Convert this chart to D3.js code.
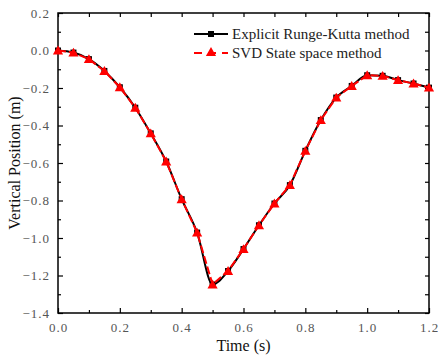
<!DOCTYPE html>
<html><head><meta charset="utf-8">
<script src="https://cdn.jsdelivr.net/npm/d3@7"></script>
<style>body{margin:0;background:#fff}svg{display:block}</style>
</head><body>
<script>
const times = [0,0.05,0.1,0.15,0.2,0.25,0.3,0.35,0.4,0.45,0.5,0.55,0.6,0.65,0.7,0.75,0.8,0.85,0.9,0.95,1.0,1.05,1.1,1.15,1.2];
const rungeKutta = [0,-0.011,-0.046,-0.109,-0.196,-0.305,-0.442,-0.592,-0.793,-0.971,-1.248,-1.176,-1.059,-0.932,-0.816,-0.718,-0.535,-0.371,-0.251,-0.189,-0.132,-0.135,-0.158,-0.176,-0.198];
const svdStateSpace = [0,-0.011,-0.046,-0.109,-0.196,-0.305,-0.442,-0.592,-0.793,-0.971,-1.248,-1.176,-1.059,-0.932,-0.816,-0.718,-0.535,-0.371,-0.251,-0.189,-0.132,-0.135,-0.158,-0.176,-0.198];
const xTicks = [0,0.2,0.4,0.6,0.8,1.0,1.2];
const yTicks = [0.2,0,-0.2,-0.4,-0.6,-0.8,-1.0,-1.2,-1.4];
const seriesNames = ["Explicit Runge-Kutta method","SVD State space method"];

const W=438,H=356;
const m={l:58,r:9,t:13,b:43};
const svg=d3.select("body").append("svg").attr("width",W).attr("height",H);
const x=d3.scaleLinear().domain([0,1.2]).range([m.l,W-m.r]);
const y=d3.scaleLinear().domain([-1.4,0.2]).range([H-m.b,m.t]);

const font="'Liberation Serif','Times New Roman',serif";
const tickFont="'Liberation Serif',serif";
const minorX=d3.range(0,12.5,1).map(d=>d/10);
const minorY=d3.range(-14,2.5,1).map(d=>d/10);

// bottom axis
const gx=svg.append("g").attr("transform",`translate(0,${H-m.b})`)
  .call(d3.axisBottom(x).tickValues(xTicks).tickSizeInner(-5).tickSizeOuter(0).tickPadding(10).tickFormat(d3.format(".1f")));
svg.append("g").attr("transform",`translate(0,${H-m.b})`)
  .call(d3.axisBottom(x).tickValues(minorX.filter(v=>Math.round(v*10)%2)).tickSizeInner(-3).tickSizeOuter(0).tickFormat(""));
// top axis
svg.append("g").attr("transform",`translate(0,${m.t})`)
  .call(d3.axisTop(x).tickValues(minorX).tickSizeInner(-4).tickSizeOuter(0).tickFormat(""));
// left axis
const gy=svg.append("g").attr("transform",`translate(${m.l},0)`)
  .call(d3.axisLeft(y).tickValues(yTicks).tickSizeInner(-5).tickSizeOuter(0).tickPadding(8).tickFormat(d=>d3.format(".1f")(d).replace("-","\u2212")));
svg.append("g").attr("transform",`translate(${m.l},0)`)
  .call(d3.axisLeft(y).tickValues(minorY.filter(v=>Math.abs(Math.round(v*10))%2)).tickSizeInner(-3).tickSizeOuter(0).tickFormat(""));
// right axis
svg.append("g").attr("transform",`translate(${W-m.r},0)`)
  .call(d3.axisRight(y).tickValues(minorY).tickSizeInner(-4).tickSizeOuter(0).tickFormat(""));

svg.selectAll(".domain").remove();
svg.selectAll(".tick line").attr("stroke","#000").attr("stroke-width",1.2);
svg.selectAll(".tick text").attr("font-family",tickFont).attr("font-size",13).attr("fill","#555").attr("letter-spacing","1px");

// frame
svg.append("rect").attr("x",m.l).attr("y",m.t).attr("width",W-m.r-m.l).attr("height",H-m.b-m.t)
  .attr("fill","none").attr("stroke","#000").attr("stroke-width",1.5);

const rk=times.map((t,i)=>[t,rungeKutta[i]]);
const sv=times.map((t,i)=>[t,svdStateSpace[i]]);
const clip=svg.append("clipPath").attr("id","c").append("rect").attr("x",m.l).attr("y",m.t).attr("width",W-m.r-m.l).attr("height",H-m.b-m.t);
const plot=svg.append("g");

plot.append("path").datum(rk).attr("fill","none").attr("stroke","#000").attr("stroke-width",2)
  .attr("d",d3.line().x(d=>x(d[0])).y(d=>y(d[1])).curve(d3.curveMonotoneX));
plot.selectAll(".sq").data(rk).enter().append("rect")
  .attr("x",d=>x(d[0])-3).attr("y",d=>y(d[1])-3).attr("width",6).attr("height",6).attr("fill","#000");
plot.append("path").datum(sv).attr("fill","none").attr("stroke","#f00").attr("stroke-width",2).attr("stroke-dasharray","8,3")
  .attr("d",d3.line().x(d=>x(d[0])).y(d=>y(d[1])));
const tri=d3.symbol().type(d3.symbolTriangle).size(45);
plot.selectAll(".tr").data(sv).enter().append("path")
  .attr("d",tri).attr("transform",d=>`translate(${x(d[0])},${y(d[1])+1})`).attr("fill","#f00");

// legend
const lg=svg.append("g");
lg.append("line").attr("x1",194).attr("x2",228).attr("y1",34).attr("y2",34).attr("stroke","#000").attr("stroke-width",2);
lg.append("rect").attr("x",208).attr("y",31).attr("width",6).attr("height",6).attr("fill","#000");
lg.append("line").attr("x1",194).attr("x2",228).attr("y1",53).attr("y2",53).attr("stroke","#f00").attr("stroke-width",2).attr("stroke-dasharray","8,6");
lg.append("path").attr("d",tri).attr("transform","translate(211,53)").attr("fill","#f00");
lg.append("text").attr("x",232).attr("y",39).text(seriesNames[0]).attr("font-family",font).attr("font-size",15).attr("fill","#222");
lg.append("text").attr("x",232).attr("y",58).text(seriesNames[1]).attr("font-family",font).attr("font-size",15).attr("fill","#222");

// axis titles
svg.append("text").attr("x",(m.l+W-m.r)/2).attr("y",351).attr("text-anchor","middle")
  .attr("font-family",font).attr("font-size",16).attr("fill","#111").text("Time (s)");
svg.append("text").attr("transform",`translate(20,${(m.t+H-m.b)/2}) rotate(-90)`).attr("text-anchor","middle")
  .attr("font-family",font).attr("font-size",16).attr("fill","#111").text("Vertical Position (m)");
</script>
</body></html>
